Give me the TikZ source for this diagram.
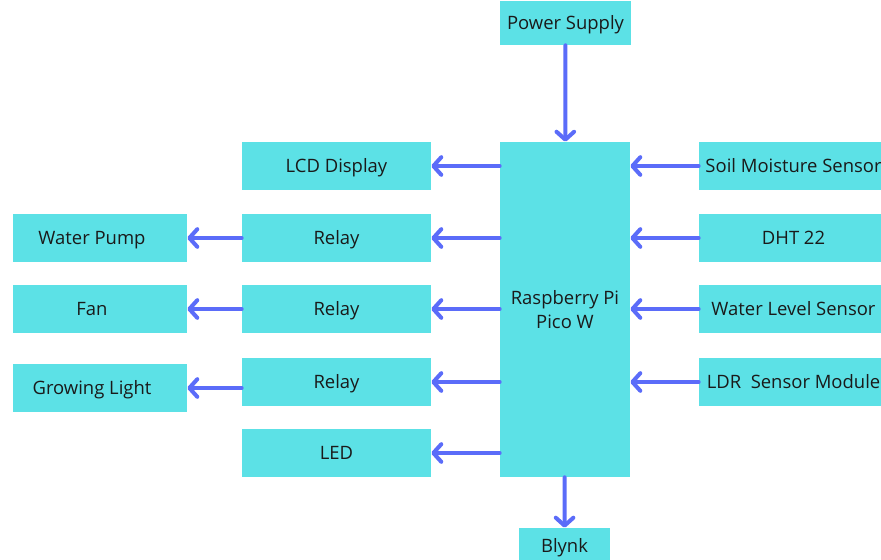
\documentclass[tikz,border=0pt]{standalone}
\usepackage{fontspec}
\setmainfont{Open Sans}
\usepackage{xcolor}
\definecolor{boxCyan}{HTML}{5CE1E6}
\definecolor{linkBlue}{HTML}{5B6CF9}
\definecolor{inkDark}{HTML}{1A1A1A}
\usepackage{tikz}
\usetikzlibrary{arrows.meta}

\begin{document}
\begin{tikzpicture}[x=0.02cm, y=-0.02cm,
    >={Straight Barb[length=4.5pt, width=10pt, round]},
    lbl/.style={text=inkDark, font=\fontsize{10.5}{14}\selectfont, align=center,
      inner sep=0pt, text height=0.92em, text depth=0.2em},
    blk/.style={lbl, fill=boxCyan, minimum width=3.78cm, minimum height=0.96cm},
    side/.style={blk, minimum width=3.48cm},
    link/.style={->, linkBlue, line width=2.3pt, line cap=round}]
  \clip (0,0) rectangle (881,560);
  % ---- controller, supply and cloud ----
  \node[blk, text height={}, text depth={}, minimum width=2.6cm, minimum height=6.7cm] (pico) at (565,309.5) {Raspberry Pi\\Pico W};
  \node[blk, minimum width=2.62cm, minimum height=0.88cm] (power) at (565.5,23) {Power Supply};
  \node[blk, minimum width=1.82cm, minimum height=0.72cm] (blynk) at (564.5,546) {Blynk};
  % ---- outputs ----
  \node[blk] (lcd) at (336.5,166) {LCD Display};
  \node[blk] (relayA) at (336.5,238) {Relay};
  \node[blk] (relayB) at (336.5,309) {Relay};
  \node[blk] (relayC) at (336.5,382) {Relay};
  \node[blk] (led) at (336.5,453) {LED};
  \node[side, label={[lbl, xshift=-0.16cm]center:Water Pump}] (pump) at (100,238) {};
  \node[side, label={[lbl, xshift=-0.16cm]center:Fan}] (fan) at (100,309) {};
  \node[side, label={[lbl, xshift=-0.16cm]center:Growing Light}] (grow) at (100,388) {};
  % ---- sensors ----
  \node[blk] (soil) at (793.5,166) {Soil Moisture Sensor};
  \node[blk] (dht) at (793.5,238) {DHT 22};
  \node[blk] (level) at (793.5,309) {Water Level Sensor};
  \node[blk] (ldr) at (793.5,382) {LDR\ \ Sensor Module};
  % ---- links ----
  \draw[link] (power) -- (pico);
  \draw[link] (pico) -- (blynk);
  \foreach \n in {lcd,relayA,relayB,relayC,led}
    \draw[link] (pico.west |- \n.east) -- (\n.east);
  \foreach \n in {soil,dht,level,ldr}
    \draw[link] (\n.west) -- (pico.east |- \n.west);
  \draw[link] (relayA.west) -- (pump.east);
  \draw[link] (relayB.west) -- (fan.east);
  \draw[link] (relayC.west |- grow.east) -- (grow.east);
\end{tikzpicture}
\end{document}
